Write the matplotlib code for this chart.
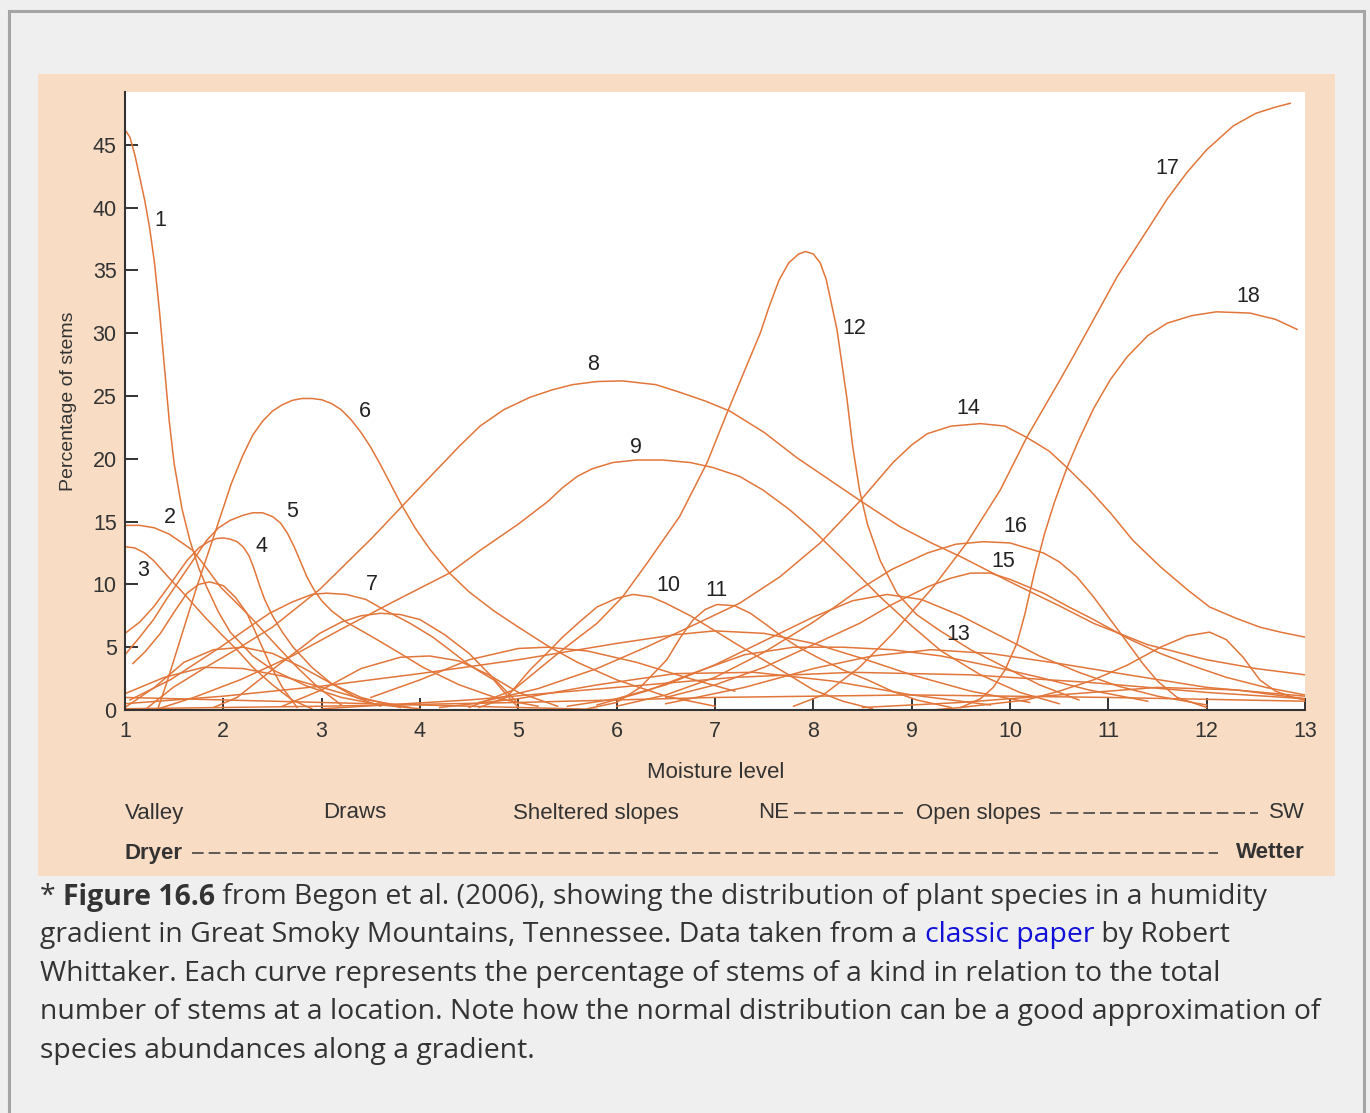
import matplotlib
matplotlib.use("Agg")
import matplotlib.pyplot as plt
from matplotlib.patches import Rectangle
from matplotlib.lines import Line2D

W, H = 1370, 1113

# species curves (moisture level, % of stems)
s1_x = [1.0, 1.05, 1.1, 1.15, 1.2, 1.25, 1.3, 1.35, 1.4, 1.45, 1.5, 1.58, 1.66, 1.75, 1.83, 1.95, 2.07, 2.3, 2.5,
        2.85, 3.2, 3.6, 4.0]
s1_y = [46.2, 45.6, 44.2, 42.4, 40.6, 38.4, 35.6, 31.8, 27.4, 23.0, 19.6, 16.0, 13.5, 11.3, 9.8, 7.8, 6.2, 4.3, 3.2,
        1.9, 1.0, 0.4, 0.1]
s2_x = [1.0, 1.15, 1.3, 1.45, 1.6, 1.69, 1.8, 1.97, 2.15, 2.3, 2.45, 2.58, 2.75, 2.95, 3.2]
s2_y = [14.7, 14.7, 14.5, 14.0, 13.2, 12.7, 11.6, 9.8, 8.4, 7.2, 5.9, 4.8, 3.4, 1.9, 0.4]
s3_x = [1.0, 1.1, 1.2, 1.29, 1.45, 1.63, 1.8, 1.97, 2.15, 2.3, 2.5, 2.7, 2.9]
s3_y = [13.0, 12.9, 12.5, 11.9, 10.5, 9.0, 7.5, 6.1, 4.7, 3.4, 2.0, 0.8, 0.1]
s4_x = [1.0, 1.15, 1.29, 1.45, 1.63, 1.75, 1.85, 1.93, 2.0, 2.07, 2.14, 2.2, 2.26, 2.31, 2.36, 2.42, 2.5, 2.6,
        2.71, 2.9, 3.1, 3.35, 3.6]
s4_y = [6.1, 7.0, 8.2, 9.9, 11.9, 12.9, 13.4, 13.65, 13.7, 13.6, 13.4, 13.0, 12.3, 11.3, 10.1, 8.8, 7.5, 6.2,
        5.0, 3.4, 2.1, 1.0, 0.3]
s5_x = [1.0, 1.15, 1.29, 1.42, 1.56, 1.7, 1.83, 1.95, 2.07, 2.2, 2.3, 2.4, 2.5, 2.58, 2.65, 2.72, 2.78, 2.85, 2.92,
        3.0, 3.1, 3.25, 3.52, 3.8, 4.03, 4.4, 4.8, 5.2]
s5_y = [4.4, 5.8, 7.2, 8.8, 10.4, 12.0, 13.5, 14.5, 15.1, 15.5, 15.7, 15.7, 15.4, 14.9, 14.1, 13.0, 11.9, 10.6, 9.6,
        8.7, 7.9, 7.0, 5.8, 4.5, 3.4, 2.0, 0.9, 0.3]
s6_x = [1.33, 1.43, 1.53, 1.63, 1.73, 1.85, 1.97, 2.08, 2.2, 2.3, 2.4, 2.5, 2.6, 2.7, 2.8, 2.9, 3.0, 3.1, 3.2, 3.3,
        3.4, 3.5, 3.6, 3.7, 3.8, 3.95, 4.1, 4.3, 4.5, 4.75, 5.0, 5.3, 5.6, 6.0, 6.5, 7.0]
s6_y = [0.0, 2.3, 4.8, 7.3, 9.8, 12.6, 15.4, 18.0, 20.3, 21.9, 23.0, 23.8, 24.3, 24.65, 24.8, 24.8, 24.7, 24.4,
        23.9, 23.1, 22.1, 20.9, 19.5, 18.0, 16.5, 14.5, 12.8, 10.9, 9.4, 7.9, 6.6, 5.1, 3.8, 2.4, 1.1, 0.3]
s7_x = [1.05, 1.46, 1.97, 2.3, 2.47, 2.7, 2.9, 3.05, 3.25, 3.45, 3.63, 3.9, 4.13, 4.3, 4.48, 4.62, 4.75, 4.88, 5.0]
s7_y = [0.8, 2.4, 5.0, 6.8, 7.7, 8.6, 9.2, 9.3, 9.2, 8.8, 8.0, 6.9, 5.8, 4.8, 3.7, 3.0, 2.4, 1.2, 0.2]
s8_x = [1.2, 1.49, 1.8, 2.17, 2.5, 2.98, 3.5, 4.07, 4.4, 4.61, 4.85, 5.12, 5.35, 5.55, 5.8, 6.06, 6.4, 6.64, 6.9,
        7.15, 7.5, 7.83, 8.15, 8.47, 8.88, 9.2, 9.5, 10.0, 10.5, 10.85, 11.4, 12.0, 12.5, 13.0]
s8_y = [0.0, 1.8, 3.3, 5.0, 6.6, 9.6, 13.6, 18.3, 21.0, 22.6, 23.9, 24.9, 25.5, 25.9, 26.15, 26.2, 25.9, 25.3,
        24.6, 23.8, 22.1, 20.1, 18.4, 16.7, 14.6, 13.3, 12.2, 10.2, 8.3, 6.9, 5.2, 4.0, 3.3, 2.8]
s9_x = [1.3, 1.7, 2.17, 2.7, 3.19, 3.7, 4.3, 4.61, 5.0, 5.3, 5.45, 5.6, 5.75, 5.96, 6.2, 6.47, 6.75, 6.98, 7.25,
        7.49, 7.75, 8.0, 8.34, 8.68, 9.0, 9.3, 9.7, 10.1, 10.5]
s9_y = [0.0, 1.0, 2.4, 4.3, 6.4, 8.5, 10.9, 12.7, 14.8, 16.6, 17.7, 18.6, 19.2, 19.7, 19.9, 19.9, 19.7, 19.3,
        18.6, 17.5, 16.0, 14.3, 11.7, 9.0, 6.7, 4.7, 2.8, 1.4, 0.5]
s10_x = [4.6, 4.88, 5.12, 5.3, 5.45, 5.62, 5.8, 6.0, 6.17, 6.35, 6.5, 6.75, 6.98, 7.25, 7.49, 7.75, 8.0, 8.3, 8.6]
s10_y = [0.2, 1.0, 3.2, 4.6, 5.8, 7.0, 8.2, 8.9, 9.2, 9.0, 8.5, 7.5, 6.4, 5.1, 4.0, 2.8, 1.6, 0.7, 0.1]
s11_x = [5.7, 6.0, 6.24, 6.51, 6.65, 6.78, 6.9, 7.02, 7.2, 7.36, 7.52, 7.69, 7.85, 8.04, 8.3, 8.55, 8.8, 9.05, 9.4]
s11_y = [0.1, 0.6, 1.8, 4.0, 5.8, 7.2, 8.0, 8.4, 8.3, 7.7, 6.8, 5.8, 5.0, 4.2, 3.2, 2.4, 1.5, 0.8, 0.2]
s12_x = [4.5, 4.95, 5.45, 5.8, 6.06, 6.31, 6.64, 6.92, 7.12, 7.3, 7.46, 7.55, 7.65, 7.75, 7.85, 7.92, 8.0, 8.07,
         8.13, 8.18, 8.24, 8.29, 8.34, 8.4, 8.47, 8.55, 8.68, 8.85, 9.05, 9.29, 9.6, 9.9, 10.3, 10.7]
s12_y = [0.2, 1.6, 4.8, 6.9, 9.0, 11.7, 15.4, 19.7, 23.6, 27.0, 30.0, 32.1, 34.2, 35.6, 36.3, 36.5, 36.3, 35.6,
         34.3, 32.5, 30.3, 27.6, 24.9, 21.0, 17.5, 14.8, 11.9, 9.3, 7.6, 6.3, 4.8, 3.6, 2.0, 0.8]
s13_x = [5.5, 6.0, 6.5, 7.0, 7.5, 8.0, 8.4, 8.75, 9.1, 9.5, 9.9, 10.3, 10.7, 11.1, 11.5, 12.0]
s13_y = [0.3, 0.9, 2.0, 3.6, 5.5, 7.4, 8.7, 9.2, 8.8, 7.5, 5.9, 4.3, 3.0, 1.9, 1.1, 0.4]
s14_x = [4.6, 5.2, 5.8, 6.3, 6.82, 7.25, 7.66, 8.07, 8.47, 8.81, 9.0, 9.16, 9.4, 9.7, 9.95, 10.17, 10.4, 10.58,
         10.8, 11.02, 11.25, 11.53, 11.8, 12.03, 12.3, 12.54, 12.75, 13.0]
s14_y = [0.6, 1.7, 3.3, 5.0, 6.9, 8.5, 10.6, 13.3, 16.6, 19.7, 21.1, 22.0, 22.6, 22.8, 22.6, 21.7, 20.6, 19.3,
         17.6, 15.7, 13.5, 11.4, 9.6, 8.2, 7.3, 6.6, 6.2, 5.8]
s15_x = [6.5, 7.0, 7.5, 8.0, 8.47, 8.8, 9.16, 9.4, 9.6, 9.8, 10.0, 10.34, 10.6, 10.85, 11.2, 11.53, 11.9, 12.2,
         12.6, 13.0]
s15_y = [1.0, 2.0, 3.4, 5.2, 6.9, 8.4, 9.8, 10.5, 10.9, 10.9, 10.4, 9.3, 8.2, 7.2, 5.7, 4.5, 3.4, 2.6, 1.8, 1.2]
s16_x = [6.0, 6.5, 7.0, 7.5, 8.0, 8.47, 8.8, 9.16, 9.45, 9.73, 10.0, 10.34, 10.5, 10.68, 10.85, 11.02, 11.2, 11.35,
         11.5, 11.7, 12.0]
s16_y = [0.3, 1.2, 2.6, 4.6, 7.0, 9.6, 11.2, 12.5, 13.2, 13.4, 13.3, 12.5, 11.8, 10.6, 9.0, 7.2, 5.3, 3.7, 2.3,
         1.0, 0.2]
s17_x = [7.8, 8.1, 8.47, 8.81, 9.22, 9.56, 9.9, 10.17, 10.51, 10.64, 11.09, 11.42, 11.6, 11.8, 12.0, 12.27, 12.5,
         12.7, 12.85]
s17_y = [0.3, 1.2, 3.4, 6.1, 9.8, 13.3, 17.5, 21.7, 26.3, 28.1, 34.5, 38.5, 40.7, 42.8, 44.6, 46.5, 47.5, 48.0,
         48.3]
s18_x = [9.2, 9.5, 9.7, 9.83, 9.95, 10.07, 10.15, 10.25, 10.35, 10.45, 10.58, 10.7, 10.85, 11.02, 11.19, 11.4, 11.6,
         11.85, 12.1, 12.44, 12.7, 12.92]
s18_y = [0.0, 0.2, 0.9, 1.8, 3.2, 5.3, 7.6, 11.0, 14.0, 16.5, 19.3, 21.5, 24.0, 26.3, 28.1, 29.8, 30.8, 31.4, 31.7,
         31.6, 31.1, 30.3]

# unlabelled minor species
u1_x = [1.08, 1.2, 1.36, 1.5, 1.63, 1.75, 1.86, 2.0, 2.12, 2.24, 2.35, 2.47, 2.6, 2.75]
u1_y = [3.7, 4.6, 6.1, 7.8, 9.3, 10.0, 10.2, 9.9, 9.0, 7.7, 5.8, 3.7, 1.8, 0.2]
u2_x = [1.9, 2.14, 2.35, 2.58, 2.8, 2.98, 3.2, 3.4, 3.6, 3.8, 4.0, 4.25, 4.5, 4.7, 4.84, 5.0]
u2_y = [0.2, 1.0, 2.3, 3.7, 5.0, 6.1, 7.0, 7.5, 7.7, 7.6, 7.2, 6.0, 4.5, 2.9, 1.8, 0.5]
u3_x = [9.5, 10.17, 10.5, 10.85, 11.2, 11.53, 11.8, 12.03, 12.2, 12.37, 12.54, 12.7, 12.88, 13.0]
u3_y = [0.2, 0.8, 1.5, 2.4, 3.6, 5.0, 5.9, 6.2, 5.6, 4.2, 2.4, 1.5, 1.0, 0.8]
u4_x = [1.0, 1.3, 1.6, 1.9, 2.2, 2.5, 2.8, 3.1, 3.4, 3.8]
u4_y = [0.2, 1.8, 3.8, 4.8, 5.0, 4.5, 3.4, 2.1, 1.0, 0.2]
u5_x = [1.0, 1.4, 1.8, 2.2, 2.6, 3.0, 3.4, 3.9]
u5_y = [1.3, 2.6, 3.4, 3.3, 2.7, 1.8, 0.9, 0.2]
u6_x = [2.6, 3.0, 3.4, 3.8, 4.1, 4.4, 4.7, 5.0, 5.4]
u6_y = [0.3, 1.6, 3.3, 4.2, 4.3, 3.9, 2.8, 1.4, 0.3]
u7_x = [3.5, 4.0, 4.5, 5.0, 5.3, 5.7, 6.2, 6.7, 7.2]
u7_y = [1.0, 2.4, 4.0, 4.9, 5.0, 4.7, 3.8, 2.6, 1.5]
u8_x = [1.0, 2.0, 3.0, 4.0, 5.0, 6.0, 6.6, 7.0, 7.5, 8.0, 8.5, 9.0, 9.6, 10.2]
u8_y = [0.5, 1.1, 1.9, 2.9, 4.0, 5.3, 6.0, 6.3, 6.1, 5.3, 4.1, 2.8, 1.5, 0.6]
u9_x = [5.8, 6.3, 6.8, 7.3, 7.8, 8.3, 8.8, 9.3, 9.8, 10.3, 10.8, 11.4]
u9_y = [0.4, 1.5, 3.0, 4.4, 5.0, 5.0, 4.8, 4.3, 3.5, 2.6, 1.6, 0.7]
u10_x = [6.5, 7.3, 8.0, 8.6, 9.2, 9.8, 10.5, 11.2, 12.0, 13.0]
u10_y = [0.5, 1.8, 3.3, 4.3, 4.8, 4.5, 3.7, 2.8, 1.8, 1.1]
u11_x = [1.0, 3.0, 5.0, 7.0, 9.0, 11.0, 13.0]
u11_y = [0.1, 0.3, 0.6, 1.0, 1.2, 1.0, 0.7]
u12_x = [3.0, 4.5, 6.0, 7.2, 8.4, 9.6, 10.8, 12.0, 13.0]
u12_y = [0.1, 0.8, 1.8, 2.6, 3.0, 2.8, 2.2, 1.4, 0.9]
u13_x = [1.0, 2.0, 3.0, 4.0, 5.0, 5.8]
u13_y = [1.0, 0.8, 0.6, 0.4, 0.2, 0.05]
u14_x = [4.2, 5.0, 5.8, 6.6, 7.4, 8.2, 9.0, 9.8]
u14_y = [0.2, 0.9, 2.0, 2.9, 3.0, 2.3, 1.2, 0.4]
u15_x = [8.5, 9.5, 10.5, 11.5, 12.3, 13.0]
u15_y = [0.2, 0.6, 1.2, 1.8, 1.6, 0.9]

curves = [(s1_x, s1_y), (s2_x, s2_y), (s3_x, s3_y), (s4_x, s4_y), (s5_x, s5_y), (s6_x, s6_y),
          (s7_x, s7_y), (s8_x, s8_y), (s9_x, s9_y), (s10_x, s10_y), (s11_x, s11_y), (s12_x, s12_y),
          (s13_x, s13_y), (s14_x, s14_y), (s15_x, s15_y), (s16_x, s16_y), (s17_x, s17_y), (s18_x, s18_y),
          (u1_x, u1_y), (u2_x, u2_y), (u3_x, u3_y), (u4_x, u4_y), (u5_x, u5_y), (u6_x, u6_y),
          (u7_x, u7_y), (u8_x, u8_y), (u9_x, u9_y), (u10_x, u10_y), (u11_x, u11_y), (u12_x, u12_y),
          (u13_x, u13_y), (u14_x, u14_y), (u15_x, u15_y)]

# curve numbers and where they sit
label_text = [str(i) for i in range(1, 19)]
label_x = [1.36, 1.46, 1.18, 2.39, 2.70, 3.44, 3.51, 5.76, 6.20, 6.53, 7.01, 8.42, 9.47, 9.58, 9.93, 10.05, 11.60, 12.42]
label_y = [39.0, 15.3, 11.1, 13.0, 15.8, 23.8, 10.0, 27.5, 20.9, 9.9, 9.5, 30.4, 6.05, 24.0, 11.8, 14.6, 43.1, 32.9]

x_ticks = list(range(1, 14))
y_ticks = list(range(0, 50, 5))

plt.rcParams['font.family'] = ['Liberation Sans', 'DejaVu Sans']

fig = plt.figure(figsize=(W / 100, H / 100), dpi=100, facecolor='#efefef')


def fx(px):
    return px / W


def fy(py):
    return 1 - py / H


# outer frame and peach panel
fig.add_artist(Rectangle((fx(9), fy(1125)), fx(1364) - fx(9), fy(11) - fy(1125), fill=False,
                         edgecolor='#a4a4a4', linewidth=2.2, transform=fig.transFigure, zorder=-2))
fig.add_artist(Rectangle((fx(38), fy(876)), fx(1335) - fx(38), fy(74) - fy(876), facecolor='#f9dcc4',
                         edgecolor='none', transform=fig.transFigure, zorder=-1))

ax = fig.add_axes([fx(125), fy(710), fx(1305) - fx(125), fy(92) - fy(710)])
ax.set_zorder(3)
ax.set_facecolor('white')
line_col = '#e2763a'
for cx, cy in curves:
    ax.plot(cx, cy, color=line_col, linewidth=1.1, solid_joinstyle='round')

for t, lx, ly in zip(label_text, label_x, label_y):
    ax.text(lx, ly, t, fontsize=15.5, color='#222222', ha='center', va='center')

ax.set_xlim(1, 13)
ax.set_ylim(0, 49.2)
ax.set_xticks(x_ticks)
ax.set_yticks(y_ticks)
ax.tick_params(direction='in', length=9, width=1.4, color='#333333', labelsize=15.5, labelcolor='#333333', pad=6)
ax.tick_params(axis='x', pad=8)
for side in ['top', 'right']:
    ax.spines[side].set_visible(False)
for side in ['left', 'bottom']:
    ax.spines[side].set_linewidth(1.5)
    ax.spines[side].set_color('#333333')
ax.set_ylabel('Percentage of stems', fontsize=14, color='#333333', labelpad=11)

txt = dict(fontsize=16, color='#333333', va='center')
fig.text(fx(716), fy(772), 'Moisture level', ha='center', **txt)
fig.text(fx(125), fy(813), 'Valley', ha='left', **txt)
fig.text(fx(355), fy(813), 'Draws', ha='center', **txt)
fig.text(fx(596), fy(813), 'Sheltered slopes', ha='center', **txt)
fig.text(fx(758), fy(813), 'NE', ha='left', **txt)
fig.text(fx(978), fy(813), 'Open slopes', ha='center', **txt)
fig.text(fx(1305), fy(813), 'SW', ha='right', **txt)
fig.text(fx(125), fy(853), 'Dryer', ha='left', fontweight='bold', **txt)
fig.text(fx(1305), fy(853), 'Wetter', ha='right', fontweight='bold', **txt)

for x0, x1, yy in [(794, 903, 813), (1050, 1258, 813), (192, 1218, 853)]:
    fig.add_artist(Line2D([fx(x0), fx(x1)], [fy(yy), fy(yy)], transform=fig.transFigure,
                          color='#444444', linewidth=1.2, dashes=(7, 3)))

# caption below the panel
cap = dict(fontsize=20.4, family='Open Sans', va='center', ha='left')
grey = '#333333'
caption = [
    (897, [('* ', 'normal', grey), ('Figure 16.6', 'bold', grey),
           (' from Begon et al. (2006), showing the distribution of plant species in a humidity', 'normal', grey)]),
    (935, [('gradient in Great Smoky Mountains, Tennessee. Data taken from a ', 'normal', grey),
           ('classic paper', 'normal', '#1010d8'), (' by Robert', 'normal', grey)]),
    (974, [('Whittaker. Each curve represents the percentage of stems of a kind in relation to the total',
            'normal', grey)]),
    (1012, [('number of stems at a location. Note how the normal distribution can be a good approximation of',
             'normal', grey)]),
    (1051, [('species abundances along a gradient.', 'normal', grey)]),
]
renderer = fig.canvas.get_renderer()
for yy, parts in caption:
    xpos = 40
    for s, wgt, col in parts:
        t = fig.text(fx(xpos), fy(yy), s, fontweight=wgt, color=col, **cap)
        xpos += t.get_window_extent(renderer).width

fig.savefig('out.png', dpi=100, facecolor=fig.get_facecolor())
